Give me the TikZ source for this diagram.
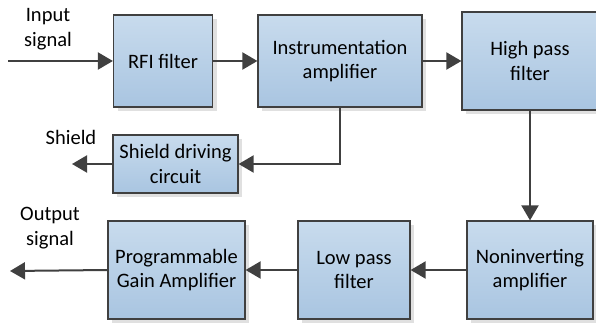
\documentclass[tikz,border=0pt]{standalone}
\usepackage{fontspec}
\setmainfont{Carlito}
\usetikzlibrary{arrows.meta,shadows}
\definecolor{boxtop}{HTML}{C8DBED}
\definecolor{boxbot}{HTML}{A9C5E1}
\definecolor{edge}{HTML}{404040}
\tikzset{
  block/.style={draw=edge, line width=1.2pt, top color=boxtop, bottom color=boxbot,
    drop shadow={shadow xshift=4pt, shadow yshift=-4pt, fill=black!12, opacity=1},
    align=center, inner sep=0pt},
  flow/.style={draw=edge, line width=2pt, -{Triangle[length=15pt,width=17pt]}},
  lbl/.style={align=center, inner sep=0pt}
}
\begin{document}
\begin{tikzpicture}[x=1pt,y=-1pt,font=\fontsize{20.5}{24.6}\selectfont]
\useasboundingbox (0,0) rectangle (596,323);
% boxes given by their centres and sizes
\node[block, minimum width=99pt, minimum height=92pt] (rfi) at (163,61) {RFI filter};
\node[block, minimum width=164pt, minimum height=92pt] (ina) at (340,61) {Instrumentation\\amplifier};
\node[block, minimum width=136pt, minimum height=98pt] (hpf) at (530,61) {High pass\\filter};
\node[block, minimum width=125pt, minimum height=58pt] (shd) at (175.5,164) {Shield driving\\circuit};
\node[block, minimum width=137pt, minimum height=98pt] (pga) at (176.5,270) {Programmable\\Gain Amplifier};
\node[block, minimum width=112pt, minimum height=98pt] (lpf) at (354,270) {Low pass\\filter};
\node[block, minimum width=126pt, minimum height=98pt] (nia) at (530,270) {Noninverting\\amplifier};
% free ends
\coordinate (in) at (8,61);
\coordinate (shout) at (72,164);
\coordinate (out) at (10,271);
% labels
\node[lbl] (inlbl) at (48,29) {Input\\signal};
\node[lbl] (shlbl) at (71,137) {Shield};
\node[lbl] (outlbl) at (50,228) {Output\\signal};
% signal chain
\draw[flow] (in) -- (rfi.west);
\draw[flow] (rfi.east) -- (ina.west);
\draw[flow] (ina.east) -- (ina.east -| hpf.west);
\draw[flow] (ina.south) |- (shd.east);
\draw[flow] (shd.west) -- (shout);
\draw[flow] (hpf.south -| nia.north) -- (nia.north);
\draw[flow] (nia.west) -- (lpf.east);
\draw[flow] (lpf.west) -- (pga.east);
\draw[flow] (pga.west) -- (out);
\end{tikzpicture}
\end{document}
